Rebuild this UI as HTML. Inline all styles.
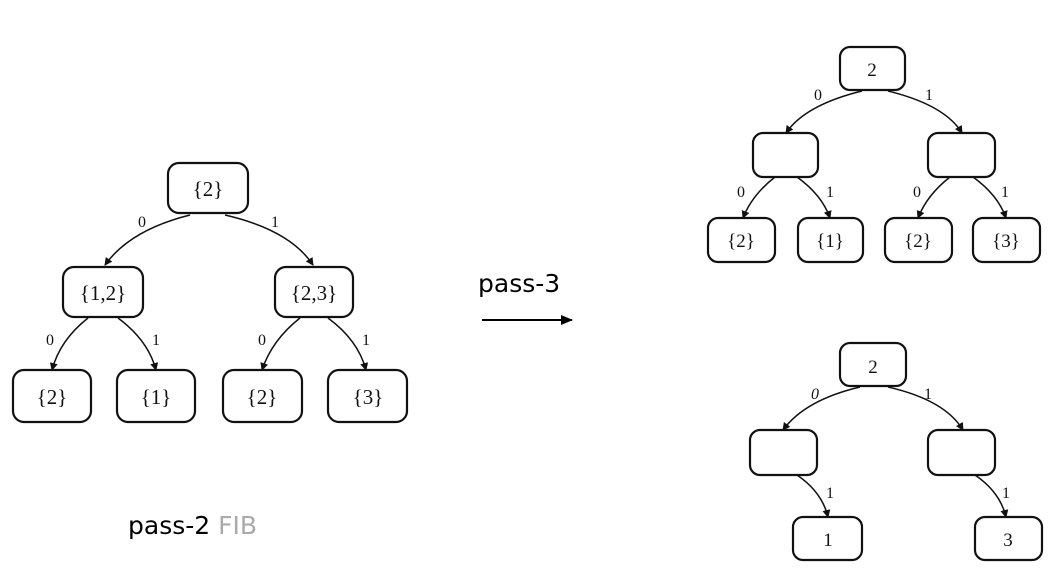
<!DOCTYPE html>
<html><head><meta charset="utf-8"><style>
html,body{margin:0;padding:0;background:#fff}
svg{display:block}
.n{fill:#fff;stroke:#111;stroke-width:2.2}
.e{fill:none;stroke:#111;stroke-width:1.5}
.t{font-family:"Liberation Serif",serif;font-size:21px;fill:#111;text-anchor:middle}
.r{font-size:19px}
.l{font-family:"Liberation Serif",serif;font-size:16px;fill:#111;text-anchor:middle}
.s{font-family:"DejaVu Sans","Liberation Sans",sans-serif;font-size:25px;fill:#000}
</style></head><body>
<svg width="1050" height="581" viewBox="0 0 1050 581" xmlns="http://www.w3.org/2000/svg">
<defs><marker id="a" markerWidth="8" markerHeight="8" refX="7" refY="4" orient="auto" markerUnits="userSpaceOnUse"><path d="M0,0 L8,4 L0,8 z" fill="#111"/></marker>
<marker id="b" markerWidth="12" markerHeight="10" refX="11" refY="5" orient="auto" markerUnits="userSpaceOnUse"><path d="M0,0 L12,5 L0,10 z" fill="#000"/></marker></defs>

<g>
<path class="e" d="M190,215 Q130,230 105,265" marker-end="url(#a)"/>
<path class="e" d="M225,215 Q290,230 313,265" marker-end="url(#a)"/>
<path class="e" d="M88,318 Q60,340 52,370" marker-end="url(#a)"/>
<path class="e" d="M118,318 Q148,340 156,370" marker-end="url(#a)"/>
<path class="e" d="M300,318 Q272,340 262,370" marker-end="url(#a)"/>
<path class="e" d="M328,318 Q358,340 366,370" marker-end="url(#a)"/>
<rect class="n" x="168" y="163" width="80" height="50" rx="11"/>
<rect class="n" x="63" y="267" width="80" height="50" rx="11"/>
<rect class="n" x="275" y="267" width="78" height="50" rx="11"/>
<rect class="n" x="13" y="370" width="78" height="52" rx="11"/>
<rect class="n" x="117" y="370" width="78" height="52" rx="11"/>
<rect class="n" x="223" y="370" width="79" height="52" rx="11"/>
<rect class="n" x="328" y="370" width="79" height="52" rx="11"/>
<text class="t" x="208" y="196">{2}</text>
<text class="t" x="103" y="300">{1,2}</text>
<text class="t" x="314" y="300">{2,3}</text>
<text class="t" x="52" y="404">{2}</text>
<text class="t" x="156" y="404">{1}</text>
<text class="t" x="262" y="404">{2}</text>
<text class="t" x="368" y="404">{3}</text>
<text class="l" x="142" y="227">0</text>
<text class="l" x="275" y="227">1</text>
<text class="l" x="50" y="345">0</text>
<text class="l" x="156" y="345">1</text>
<text class="l" x="262" y="345">0</text>
<text class="l" x="366" y="345">1</text>
</g>

<text class="s" x="478" y="292">pass-3</text>
<line x1="482" y1="320" x2="572" y2="320" stroke="#000" stroke-width="2" marker-end="url(#b)"/>
<text class="s" x="128" y="534">pass-2 <tspan fill="#aaa">FIB</tspan></text>

<g>
<path class="e" d="M862,91 Q805,105 786,133" marker-end="url(#a)"/>
<path class="e" d="M888,91 Q945,105 962,133" marker-end="url(#a)"/>
<path class="e" d="M775,177 Q752,195 743,218" marker-end="url(#a)"/>
<path class="e" d="M797,177 Q822,195 830,218" marker-end="url(#a)"/>
<path class="e" d="M950,177 Q927,195 918,218" marker-end="url(#a)"/>
<path class="e" d="M973,177 Q998,195 1006,218" marker-end="url(#a)"/>
<rect class="n" x="840" y="47" width="65" height="43" rx="10"/>
<rect class="n" x="753" y="133" width="65" height="44" rx="10"/>
<rect class="n" x="928" y="133" width="67" height="44" rx="10"/>
<rect class="n" x="708" y="218" width="67" height="44" rx="10"/>
<rect class="n" x="798" y="218" width="65" height="44" rx="10"/>
<rect class="n" x="885" y="218" width="67" height="44" rx="10"/>
<rect class="n" x="973" y="218" width="67" height="44" rx="10"/>
<text class="t r" x="872" y="76">2</text>
<text class="t r" x="741" y="247">{2}</text>
<text class="t r" x="830" y="247">{1}</text>
<text class="t r" x="918" y="247">{2}</text>
<text class="t r" x="1006" y="247">{3}</text>
<text class="l" x="818" y="100">0</text>
<text class="l" x="929" y="100">1</text>
<text class="l" x="741" y="197">0</text>
<text class="l" x="830" y="197">1</text>
<text class="l" x="917" y="197">0</text>
<text class="l" x="1005" y="197">1</text>
</g>

<g>
<path class="e" d="M860,387 Q805,400 783,430" marker-end="url(#a)"/>
<path class="e" d="M888,387 Q945,400 963,430" marker-end="url(#a)"/>
<path class="e" d="M797,475 Q822,492 828,517" marker-end="url(#a)"/>
<path class="e" d="M975,475 Q1000,492 1006,517" marker-end="url(#a)"/>
<rect class="n" x="840" y="343" width="66" height="43" rx="10"/>
<rect class="n" x="750" y="430" width="67" height="45" rx="10"/>
<rect class="n" x="928" y="430" width="67" height="45" rx="10"/>
<rect class="n" x="793" y="517" width="69" height="43" rx="10"/>
<rect class="n" x="975" y="517" width="67" height="43" rx="10"/>
<text class="t r" x="873" y="373">2</text>
<text class="t r" x="828" y="546">1</text>
<text class="t r" x="1008" y="546">3</text>
<text class="l" x="815" y="399" font-style="italic">0</text>
<text class="l" x="928" y="399">1</text>
<text class="l" x="830" y="498">1</text>
<text class="l" x="1006" y="498">1</text>
</g>
</svg>
</body></html>
